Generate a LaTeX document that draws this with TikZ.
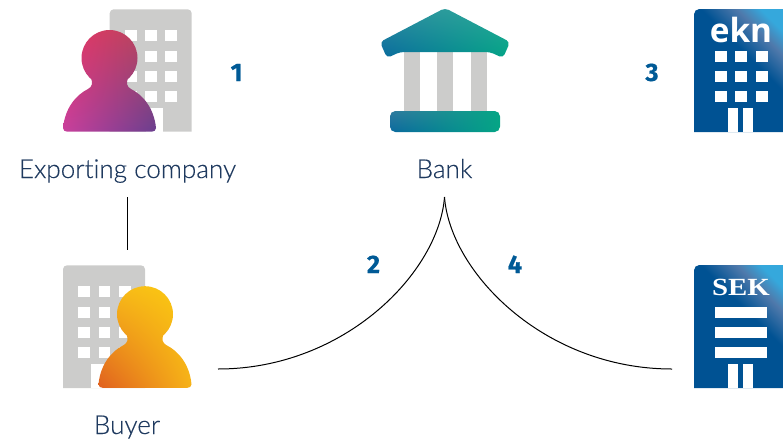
\documentclass[tikz,border=0pt]{standalone}
\usepackage{fontspec}
\setmainfont{Lato}[Ligatures=NoCommon,UprightFont=* Light,UprightFeatures={FakeBold=0.25}]
\newfontfamily\numfont{Fira Sans}[BoldFeatures={FakeBold=0.5}]
\newfontfamily\eknfont{Open Sans}
\newfontfamily\sekfont{Liberation Serif}
\definecolor{agencyblue}{HTML}{005293}
\definecolor{agencymid}{HTML}{4F79AB}
\definecolor{agencylight}{HTML}{35A8DC}
\definecolor{labelblue}{HTML}{1F3A5F}
\definecolor{numblue}{HTML}{005A96}
\definecolor{graybld}{HTML}{CCCCCB}
\def\bilinchan#1,#2,#3,#4;{%
 \pgfmathsetmacro\ca{(#1)/255}\pgfmathsetmacro\cb{(#2-#1)/255}%
 \pgfmathsetmacro\cc{(#3-#1)/255}\pgfmathsetmacro\cd{(#4-#3-#2+#1)/255}%
 \edef\chanres{2 copy mul \cd\space mul 3 1 roll \cc\space mul exch \cb\space mul add add \ca\space add}}
% channels given as: bottom-left, bottom-right, top-left, top-right
\newcommand\bilin[4]{%
 \bilinchan#2;\let\chr\chanres
 \bilinchan#3;\let\chg\chanres
 \bilinchan#4;\let\chb\chanres
 \edef\tmpdecl{\noexpand\pgfdeclarefunctionalshading{#1}{\noexpand\pgfpoint{-50bp}{-50bp}}{\noexpand\pgfpoint{50bp}{50bp}}{}{25 add 50 div exch 25 add 50 div exch 2 copy \chr\space 3 1 roll 2 copy \chg\space 3 1 roll \chb}}%
 \tmpdecl}
\bilin{purpleperson}{200,106,232,176}{64,63,52,72}{156,143,104,92}
\bilin{yellowperson}{224,246,247,251}{96,178,184,203}{31,24,26,16}
\bilin{bankroof}{10,3,47,42}{106,165,143,170}{158,133,160,152}
\bilin{bankbase}{10,5,47,5}{106,165,122,165}{158,133,158,133}
\pgfdeclarehorizontalshading{agency}{100bp}{color(0bp)=(agencyblue); color(58bp)=(agencyblue); color(70bp)=(agencymid); color(78bp)=(agencylight); color(100bp)=(agencylight)}
\tikzset{
 lbl/.style={text=labelblue,font=\fontsize{19.6pt}{22pt}\selectfont,inner sep=0pt,anchor=base},
 num/.style={text=numblue,font=\numfont\bfseries\fontsize{19pt}{20pt}\selectfont,inner sep=0pt,anchor=base},
 conn/.style={draw=black,line width=0.75pt},
 win/.style={fill=white,draw=none},
 bld/.style={fill=graybld,draw=none},
 col/.style={fill=graybld,draw=none},
 agencybld/.style={shading=agency,shading angle=45}
}
\newcommand\personpath{(109.5,58) circle[radius=28]
 (63,128) .. controls (65,108) and (76,95) .. (88,89) .. controls (92,87) and (93,83) .. (91,78) -- (128,78) .. controls (126,83) and (127,87) .. (131,89) .. controls (143,95) and (154,108) .. (156,128) .. controls (156,130.5) and (154,131.6) .. (152,131.6) -- (67,131.6) .. controls (65,131.6) and (63,130.5) .. (63,128) -- cycle}
\begin{document}
\begin{tikzpicture}[x=0.75pt,y=-0.75pt]
\useasboundingbox (0,0) rectangle (783,440);
% exporter building
\fill[bld] (109.7,131.6) [rounded corners=3] -- (109.7,9.3) -- (191.7,9.3) [sharp corners] -- (191.7,131.6) -- cycle;
\foreach \wx in {125,145,165}\foreach \wy in {30,50.7,70.7,90.7}
 \fill[win] (\wx,\wy) rectangle +(11.7,11.3);
\fill[win] (145.7,108) rectangle (163,131.6);
\shade[shading=purpleperson] \personpath;
% buyer building
\fill[bld] (63,388) [rounded corners=3] -- (63,265.3) -- (145,265.3) [sharp corners] -- (145,388) -- cycle;
\foreach \wx in {78.3,98.6,118.8}\foreach \wy in {286,306.7,327,347}
 \fill[win] (\wx,\wy) rectangle +(11.7,11.3);
\fill[win] (91,364) rectangle (108.5,388);
\begin{scope}[shift={(35.5,256.2)}]
\shade[shading=yellowperson] \personpath;
\end{scope}
% bank
\foreach \cx in {404,437,471}
 \fill[col] (\cx,50) rectangle +(16,62);
\shade[shading=bankroof,rounded corners=3] (445,8) -- (380,42) -- (387,58) -- (400,52) -- (490,52) -- (503,58) -- (510,42) -- cycle;
\shade[shading=bankbase,rounded corners=4] (390,111) rectangle (500,132);
% ekn
\shade[agencybld] (694,132) [rounded corners=4] -- (694,9) [sharp corners] -- (783,9) -- (783,132) -- cycle;
\node[text=white,font=\eknfont\bfseries\fontsize{25pt}{28pt}\selectfont,inner sep=0pt,anchor=base] (ekn) at (741,42) {ekn};
\foreach \wx in {715,735,756}\foreach \wy in {51,71,91}
 \fill[win] (\wx,\wy) rectangle +(11.5,11.3);
\fill[win] (728,108) rectangle (738,132);
\fill[win] (743,108) rectangle (753,132);
% sek
\shade[agencybld] (694,388) [rounded corners=4] -- (694,265) [sharp corners] -- (783,265) -- (783,388) -- cycle;
\node[text=white,font=\sekfont\bfseries\fontsize{18.5pt}{20pt}\selectfont,inner sep=0pt,anchor=base,xscale=1.17] (sek) at (741,295) {SEK};
\foreach \wy in {307,327,347}
 \fill[win] (715,\wy) rectangle +(52,11.3);
\fill[win] (728,364) rectangle (738,388);
\fill[win] (743,364) rectangle (753,388);
% labels
\node[lbl] (exporter) at (127.5,178) {Exporting company};
\node[lbl] (bank) at (444.5,178) {Bank};
\node[lbl] (buyer) at (127,434) {Buyer};
\node[num] (n1) at (236.5,81) {1};
\node[num] (n2) at (373.5,273) {2};
\node[num] (n3) at (652,81) {3};
\node[num] (n4) at (515,273) {4};
% connectors
\coordinate (expfoot) at (127.3,197);
\coordinate (buyerhead) at (127.3,250);
\coordinate (buyerright) at (218,369);
\coordinate (bankfoot) at (444.5,197);
\coordinate (sekleft) at (672,369);
\draw[conn] (expfoot) -- (buyerhead);
\draw[conn] (buyerright) .. controls (345,369) and (439,272) .. (bankfoot);
\draw[conn] (bankfoot) .. controls (450,272) and (544,369) .. (sekleft);
\end{tikzpicture}
\end{document}
